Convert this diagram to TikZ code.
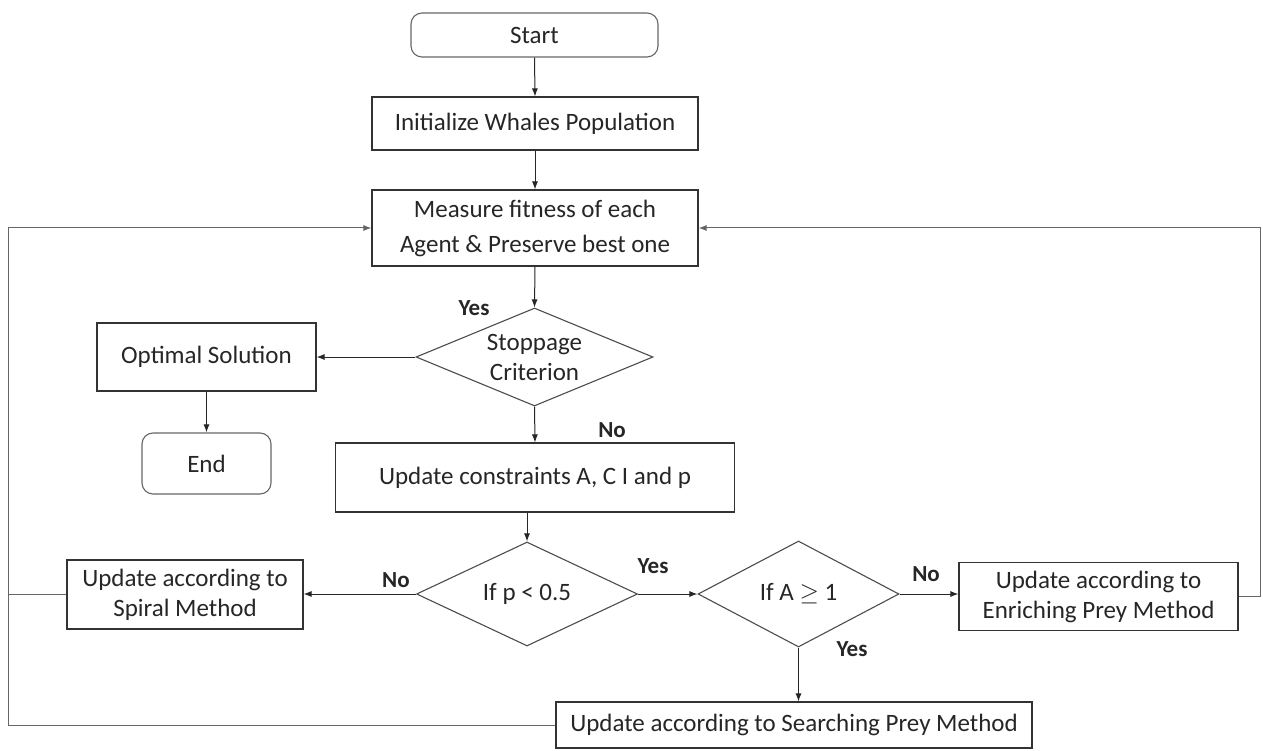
\documentclass[tikz,border=0pt]{standalone}
\usepackage{fontspec}
\setmainfont{Carlito}
\usetikzlibrary{shapes.geometric,arrows.meta}
\begin{document}
\begin{tikzpicture}[x=1pt,y=-1pt,
  every node/.style={font=\fontsize{25}{30}\selectfont, text=black!85},
  box/.style={draw=black!80, line width=1.1pt, rectangle, inner sep=0pt, align=center},
  term/.style={draw=black!60, line width=1.1pt, rectangle, rounded corners=11pt, inner sep=0pt, align=center},
  dec/.style={draw=black!70, line width=1.1pt, diamond, aspect=2.3, inner sep=0pt, align=center},
  arr/.style={draw=black!85, line width=1pt, -{Latex[length=8pt,width=6pt]}},
  ln/.style={draw=black!60, line width=1.1pt},
  lbl/.style={font=\bfseries\fontsize{23}{26}\selectfont, inner sep=0pt}
]
\useasboundingbox (0,0) rectangle (1263,751);

\node[term, minimum width=247pt, minimum height=44pt] (start) at (534.5,35) {Start};
\node[box, minimum width=326pt, minimum height=53pt] (init) at (535,123.5) {Initialize Whales Population};
\node[box, minimum width=326pt, minimum height=76pt, font=\fontsize{25}{35}\selectfont] (measure) at (535,228) {Measure fitness of each\\Agent \& Preserve best one};
\node[dec, minimum width=237pt, minimum height=98pt] (stop) at (534.5,357) {Stoppage\\Criterion};
\node[box, minimum width=219pt, minimum height=68pt] (opt) at (206.5,357) {Optimal Solution};
\node[term, minimum width=129pt, minimum height=61pt] (endn) at (206.5,463.5) {End};
\node[box, minimum width=399pt, minimum height=69pt] (upd) at (535,477.5) {Update constraints A, C I and p};
\node[dec, minimum width=221pt, minimum height=104pt] (pdec) at (527,594) {If p < 0.5};
\node[dec, minimum width=201pt, minimum height=106pt] (adec) at (798.5,594) {If A $\geq$ 1};
\node[box, minimum width=236pt, minimum height=69pt] (spiral) at (185,594.5) {Update according to\\Spiral Method};
\node[box, minimum width=279pt, minimum height=68pt] (enrich) at (1098.5,596.5) {Update according to\\Enriching Prey Method};
\node[box, minimum width=476pt, minimum height=46pt] (search) at (794,725) {Update according to Searching Prey Method};

\coordinate (lx) at (8,0);
\coordinate (rx) at (1260,0);

\draw[arr] (start.south) -- (init.north);
\draw[arr] (init.south) -- (measure.north);
\draw[arr] (measure.south) -- (stop.north);
\draw[arr] (stop.west) -- (opt.east);
\draw[arr] (opt.south) -- (endn.north);
\draw[arr] (stop.south) -- (upd.north);
\draw[arr] (pdec.north |- upd.south) -- (pdec.north);
\draw[arr] (pdec.west) -- (spiral.east |- pdec.west);
\draw[arr] (pdec.east) -- (adec.west);
\draw[arr] (adec.east) -- (enrich.west |- adec.east);
\draw[arr] (adec.south) -- (search.north -| adec.south);
\draw[ln] (spiral.west) -- (spiral.west -| lx);
\draw[arr, draw=black!60] (search.west) -| (lx |- measure.west) -- (measure.west);
\draw[arr, draw=black!60] (enrich.east) -| (rx |- measure.east) -- (measure.east);

\node[lbl] (l1) at (474,308) {Yes};
\node[lbl] (l2) at (612,430) {No};
\node[lbl] (l3) at (396,580) {No};
\node[lbl] (l4) at (653,566) {Yes};
\node[lbl] (l5) at (926,574) {No};
\node[lbl] (l6) at (852,649) {Yes};
\end{tikzpicture}
\end{document}
